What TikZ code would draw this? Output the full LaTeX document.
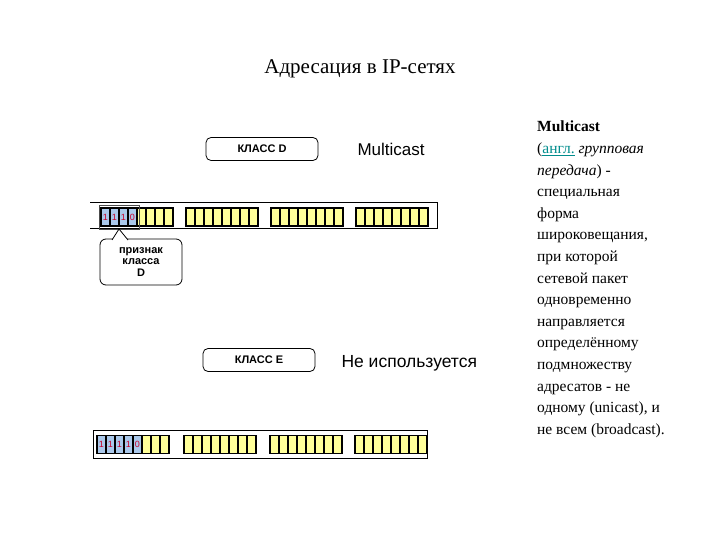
\documentclass[tikz,border=0pt]{standalone}
\usepackage{fontspec}
\setmainfont{Liberation Serif}
\newfontfamily\arialf{Liberation Sans}
\definecolor{cellY}{RGB}{255,255,153}
\definecolor{cellB}{RGB}{170,200,235}
\definecolor{digR}{RGB}{200,0,40}
\definecolor{linkT}{RGB}{0,140,140}
\tikzset{
  clsbox/.style={draw,thick,rounded corners=5pt,minimum width=112pt,minimum height=23pt,font=\arialf\bfseries\fontsize{11}{12}\selectfont},
  cell/.style={draw,line width=1.3pt,fill=cellY,minimum width=9pt,minimum height=18pt,inner sep=0pt},
  bcell/.style={cell,fill=cellB,font=\arialf\fontsize{9}{9}\selectfont,text=digR},
}
\begin{document}
\begin{tikzpicture}[x=1pt,y=-1pt]
\useasboundingbox (0,0) rectangle (720,540);
\node[font=\fontsize{21}{24}\selectfont] (title) at (360,69) {Адресация в IP-сетях};
% class D
\node[clsbox] (cd) at (262,149) {КЛАСС D};
\node[font=\arialf\fontsize{17}{20}\selectfont,anchor=west] (mc) at (354,149) {Multicast};
\draw[line width=1pt] (90,203) -- (437,203) -- (437,229) -- (90,229);
\foreach \s/\k in {101/1,186/2,271/3,356/4}{
  \foreach \i in {0,...,7}{ \node[cell] (d\k\i) at (\s+4.5+\i*9,217) {}; }
}
\foreach \i/\t in {0/1,1/1,2/1,3/0}{ \node[bcell] (db\i) at (105.5+\i*9,217) {\t}; }
\draw[thin,draw=black!70] (99,205) rectangle (139,229);
\node[draw,thick,rounded corners=6pt,minimum width=82pt,minimum height=46pt,align=center,
  font=\arialf\bfseries\fontsize{11}{11.5}\selectfont] (cal) at (141,262) {признак\\класса\\D};
\coordinate (tip) at (119,229);
\draw[fill=white,thick] (112,240) -- (tip) -- (128,240);
% class E
\node[clsbox] (ce) at (259,360) {КЛАСС E};
\node[font=\arialf\fontsize{17.5}{20}\selectfont,anchor=west] (nu) at (338,363) {Не используется};
\draw[line width=1pt] (93,430) rectangle (427,458);
\foreach \s/\k in {97/1,184/2,270/3,355/4}{
  \foreach \i in {0,...,7}{ \node[cell] (e\k\i) at (\s+4.5+\i*9,444.5) {}; }
}
\foreach \i/\t in {0/1,1/1,2/1,3/1,4/0}{ \node[bcell] (eb\i) at (101.5+\i*9,444.5) {\t}; }
% right text
\node[anchor=north west,align=left,font=\fontsize{15.5}{21.6}\selectfont,inner sep=0pt] (txt) at (537,121) {%
\textbf{Multicast}\\
(\textcolor{linkT}{\underline{англ.}} \textit{групповая}\\
\textit{передача}) -\\
специальная\\
форма\\
широковещания,\\
при которой\\
сетевой пакет\\
одновременно\\
направляется\\
определённому\\
подмножеству\\
адресатов - не\\
одному (unicast), и\\
не всем (broadcast).};
\end{tikzpicture}
\end{document}
